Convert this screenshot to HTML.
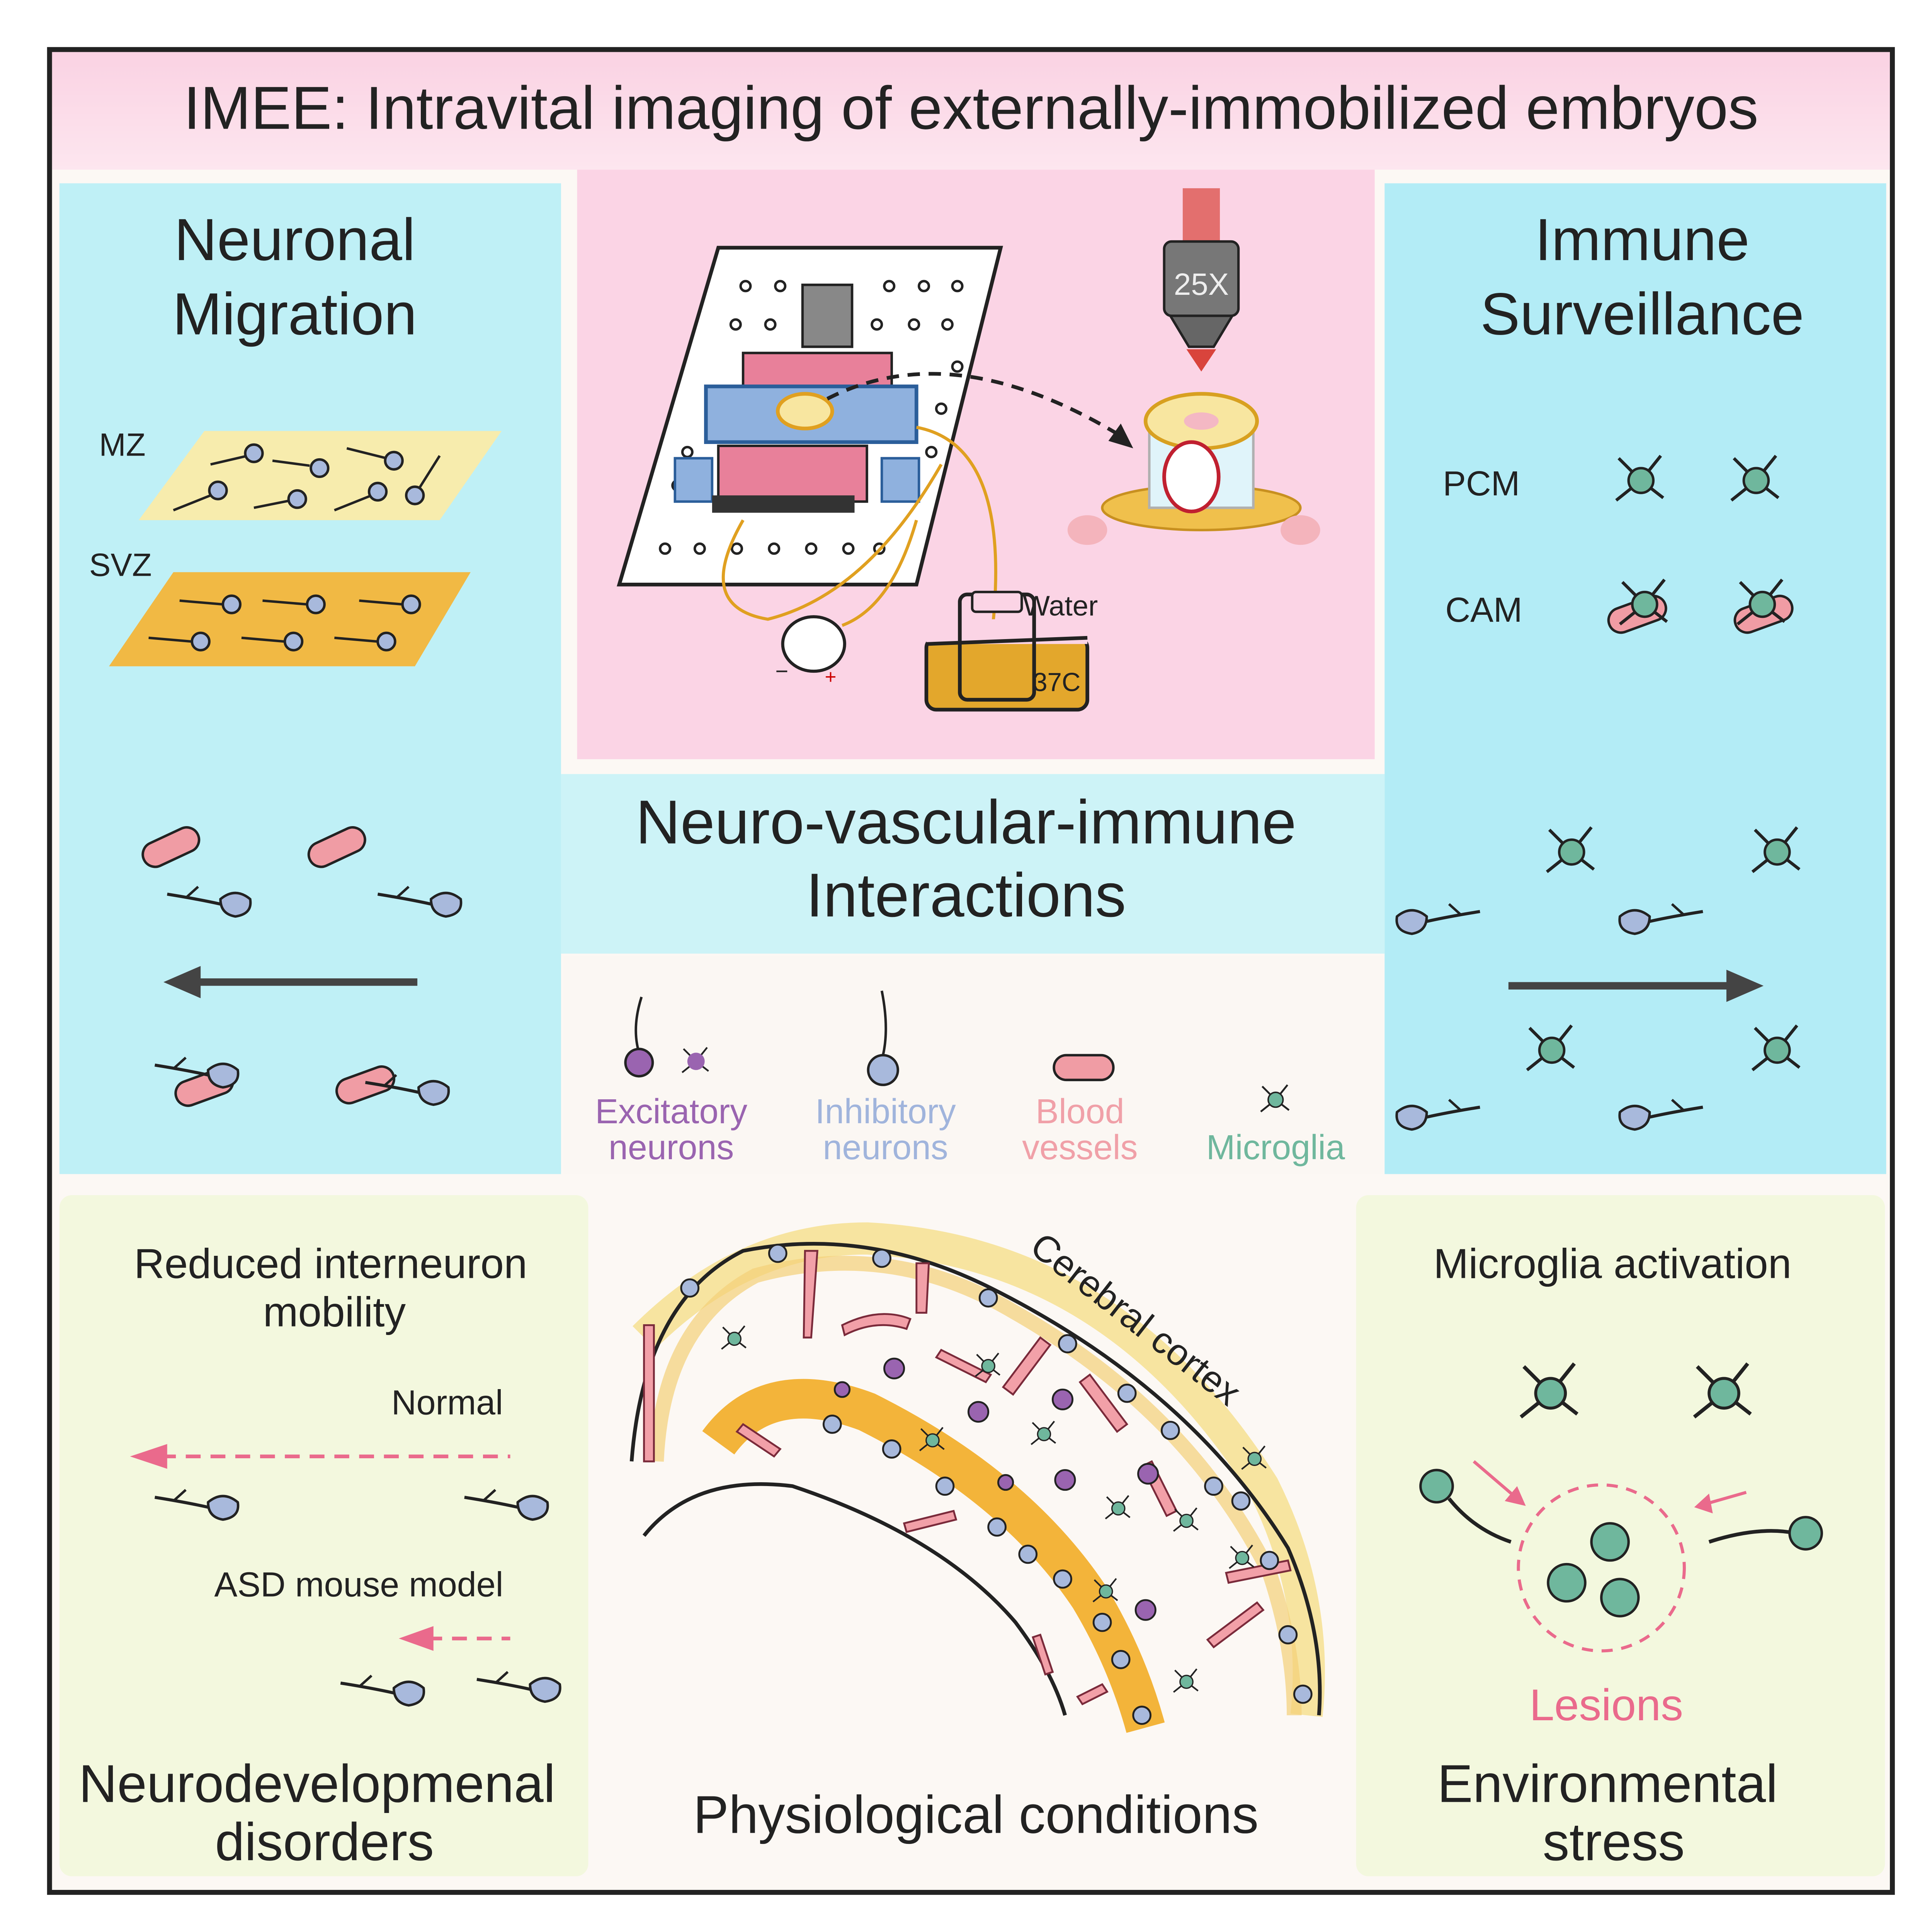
<!DOCTYPE html>
<html><head><meta charset="utf-8"><style>
html,body{margin:0;padding:0;background:#fff;overflow:hidden;width:100vw;height:100vh}
svg{display:block;width:100vw;height:100vh}
text{font-family:"Liberation Sans",sans-serif}
</style></head><body>
<svg viewBox="0 0 1560 1560" preserveAspectRatio="none" xmlns="http://www.w3.org/2000/svg">
<defs>
<symbol id="nb" viewBox="-60 -20 80 40" overflow="visible">
<path d="M-55,-6 Q-30,-2 -12,2" stroke="#222" stroke-width="2.5" fill="none"/>
<path d="M-40,-3 L-30,-12" stroke="#222" stroke-width="2" fill="none"/>
<path d="M-12,-2 Q0,-12 12,-2 Q14,10 0,12 Q-12,10 -12,-2Z" fill="#a8b9dc" stroke="#222" stroke-width="2"/>
</symbol>
<symbol id="mg" viewBox="-25 -25 50 50" overflow="visible">
<path d="M0,0 L-18,-18 M0,0 L16,-20 M0,0 L-20,16 M0,0 L18,14" stroke="#222" stroke-width="2.5"/>
<circle r="10" fill="#6fb79d" stroke="#222" stroke-width="2"/>
</symbol>
<symbol id="bv" viewBox="-25 -12 50 24" overflow="visible">
<rect x="-24" y="-10" width="48" height="20" rx="10" fill="#f09ca4" stroke="#222" stroke-width="2"/>
</symbol>
<linearGradient id="pk" x1="0" y1="0" x2="0" y2="1"><stop offset="0" stop-color="#fad2e3"/><stop offset="1" stop-color="#fde6ef"/></linearGradient>
</defs>
<rect width="1560" height="1560" fill="#fff"/>
<rect x="40" y="40" width="1488" height="1488" fill="#fcf8f4"/>
<rect x="42" y="42" width="1484" height="95" fill="url(#pk)"/>
<text x="784" y="104" font-size="49" text-anchor="middle" fill="#222">IMEE: Intravital imaging of externally-immobilized embryos</text>
<rect x="466" y="137" width="644" height="476" fill="#fbd4e5"/>
<rect x="48" y="148" width="405" height="800" fill="#bff0f6"/>
<rect x="1118" y="148" width="405" height="800" fill="#b3ecf6"/>
<rect x="453" y="625" width="665" height="145" fill="#cdf3f7"/>
<rect x="455" y="772" width="662" height="176" fill="#fbf7f3"/>
<rect x="48" y="965" width="427" height="550" fill="#f3f8de" rx="10"/>
<rect x="1095" y="965" width="427" height="550" fill="#f3f8de" rx="10"/>
<rect x="40" y="40" width="1488" height="1488" fill="none" stroke="#222" stroke-width="4"/>

<text x="238" y="210" font-size="48" text-anchor="middle" fill="#222">Neuronal</text>
<text x="238" y="270" font-size="48" text-anchor="middle" fill="#222">Migration</text>
<text x="80" y="368" font-size="26" fill="#222">MZ</text>
<text x="72" y="465" font-size="26" fill="#222">SVZ</text>
<polygon points="165,348 405,348 355,420 112,420" fill="#f7ecad"/>
<polygon points="140,462 380,462 335,538 88,538" fill="#f1b944"/>
<g stroke="#222" stroke-width="2" fill="#a8b9dc">
<path d="M170,375 L200,368" fill="none"/><circle cx="205" cy="366" r="7"/>
<path d="M220,372 L250,376" fill="none"/><circle cx="258" cy="378" r="7"/>
<path d="M280,362 L312,370" fill="none"/><circle cx="318" cy="372" r="7"/>
<path d="M140,412 L170,400" fill="none"/><circle cx="176" cy="396" r="7"/>
<path d="M205,410 L235,404" fill="none"/><circle cx="240" cy="403" r="7"/>
<path d="M270,412 L300,400" fill="none"/><circle cx="305" cy="397" r="7"/>
<path d="M355,368 L338,395" fill="none"/><circle cx="335" cy="400" r="7"/>
<path d="M145,485 L180,488" fill="none"/><circle cx="187" cy="488" r="7"/>
<path d="M212,485 L248,488" fill="none"/><circle cx="255" cy="488" r="7"/>
<path d="M290,485 L325,488" fill="none"/><circle cx="332" cy="488" r="7"/>
<path d="M120,515 L155,518" fill="none"/><circle cx="162" cy="518" r="7"/>
<path d="M195,515 L230,518" fill="none"/><circle cx="237" cy="518" r="7"/>
<path d="M270,515 L305,518" fill="none"/><circle cx="312" cy="518" r="7"/>
</g>
<g transform="translate(138,684) rotate(-25)"><use href="#bv" x="-25" y="-12" width="50" height="24"/></g>
<g transform="translate(272,684) rotate(-25)"><use href="#bv" x="-25" y="-12" width="50" height="24"/></g>
<use href="#nb" x="130" y="708" width="80" height="40"/>
<use href="#nb" x="300" y="708" width="80" height="40"/>
<line x1="150" y1="793" x2="337" y2="793" stroke="#444" stroke-width="6"/>
<polygon points="132,793 162,780 162,806" fill="#444"/>
<g transform="translate(165,878) rotate(-20)"><use href="#bv" x="-25" y="-12" width="50" height="24"/></g>
<g transform="translate(295,876) rotate(-20)"><use href="#bv" x="-25" y="-12" width="50" height="24"/></g>
<use href="#nb" x="120" y="846" width="80" height="40"/>
<use href="#nb" x="290" y="860" width="80" height="40"/>

<polygon points="580,200 808,200 740,472 500,472" fill="#fff" stroke="#222" stroke-width="3"/>
<g fill="#fff" stroke="#222" stroke-width="2">
<circle cx="602" cy="231" r="4"/><circle cx="630" cy="231" r="4"/><circle cx="718" cy="231" r="4"/><circle cx="746" cy="231" r="4"/><circle cx="773" cy="231" r="4"/>
<circle cx="594" cy="262" r="4"/><circle cx="622" cy="262" r="4"/><circle cx="708" cy="262" r="4"/><circle cx="738" cy="262" r="4"/><circle cx="765" cy="262" r="4"/>
<circle cx="555" cy="365" r="4"/><circle cx="547" cy="392" r="4"/>
<circle cx="537" cy="443" r="4"/><circle cx="565" cy="443" r="4"/><circle cx="595" cy="443" r="4"/><circle cx="625" cy="443" r="4"/><circle cx="655" cy="443" r="4"/><circle cx="685" cy="443" r="4"/><circle cx="710" cy="443" r="4"/>
<circle cx="773" cy="296" r="4"/><circle cx="760" cy="330" r="4"/><circle cx="752" cy="365" r="4"/>
</g>
<rect x="648" y="230" width="40" height="50" fill="#888" stroke="#222" stroke-width="2"/>
<rect x="600" y="285" width="120" height="40" fill="#e8809a" stroke="#222" stroke-width="2"/>
<rect x="570" y="312" width="170" height="45" fill="#8fb1de" stroke="#2b5e9a" stroke-width="3"/>
<rect x="580" y="360" width="120" height="45" fill="#e8809a" stroke="#222" stroke-width="2"/>
<rect x="545" y="370" width="30" height="35" fill="#8fb1de" stroke="#2b5e9a" stroke-width="2"/>
<rect x="712" y="370" width="30" height="35" fill="#8fb1de" stroke="#2b5e9a" stroke-width="2"/>
<rect x="575" y="400" width="115" height="14" fill="#333"/>
<ellipse cx="650" cy="332" rx="22" ry="14" fill="#f8e6a0" stroke="#e0a020" stroke-width="3"/>
<path d="M668,322 Q770,270 905,352" fill="none" stroke="#222" stroke-width="3" stroke-dasharray="10,7"/>
<polygon points="915,362 895,356 905,342" fill="#222"/>
<path d="M600,420 Q560,490 620,500 Q700,480 760,375" fill="none" stroke="#e0a020" stroke-width="2.5"/>
<path d="M740,345 Q820,360 800,520" fill="none" stroke="#e0a020" stroke-width="2.5"/>
<path d="M680,505 Q720,490 740,420" fill="none" stroke="#e0a020" stroke-width="2.5"/>
<ellipse cx="657" cy="520" rx="25" ry="22" fill="#fff" stroke="#222" stroke-width="2.5"/>
<text x="626" y="548" font-size="18" fill="#222">−</text><text x="666" y="552" font-size="16" fill="#c00">+</text>
<rect x="748" y="515" width="130" height="58" rx="8" fill="#e3a72c" stroke="#222" stroke-width="3"/>
<rect x="748" y="500" width="130" height="20" fill="#fbd4e5"/>
<path d="M748,520 L878,515" stroke="#222" stroke-width="3"/>
<rect x="775" y="480" width="60" height="85" rx="6" fill="none" stroke="#222" stroke-width="3"/>
<rect x="785" y="478" width="40" height="16" rx="3" fill="#fbd4e5" stroke="#222" stroke-width="2"/>
<text x="826" y="497" font-size="23" fill="#222">Water</text>
<text x="834" y="558" font-size="21" fill="#222">37C</text>
<rect x="955" y="152" width="30" height="45" fill="#d9443c" opacity="0.7"/>
<rect x="940" y="195" width="60" height="60" rx="6" fill="#777" stroke="#222" stroke-width="2"/>
<polygon points="945,255 995,255 980,280 960,280" fill="#666" stroke="#222" stroke-width="2"/>
<text x="970" y="238" font-size="25" fill="#eee" text-anchor="middle">25X</text>
<polygon points="958,282 982,282 970,300" fill="#d9443c"/>
<ellipse cx="970" cy="410" rx="80" ry="18" fill="#f0c04c" stroke="#c89020" stroke-width="2"/>
<rect x="928" y="340" width="84" height="70" fill="#e0f4fa" stroke="#b0b0b0" stroke-width="2"/>
<ellipse cx="970" cy="340" rx="45" ry="22" fill="#f8e6a0" stroke="#d8a020" stroke-width="3"/>
<ellipse cx="970" cy="340" rx="14" ry="7" fill="#f4b8c4"/>
<ellipse cx="962" cy="385" rx="22" ry="28" fill="#fff" stroke="#c02030" stroke-width="3"/>
<ellipse cx="878" cy="428" rx="16" ry="12" fill="#f4b4bc"/>
<ellipse cx="1050" cy="428" rx="16" ry="12" fill="#f4b4bc"/>

<text x="1326" y="210" font-size="48" text-anchor="middle" fill="#222">Immune</text>
<text x="1326" y="270" font-size="48" text-anchor="middle" fill="#222">Surveillance</text>
<text x="1165" y="400" font-size="28" fill="#222">PCM</text>
<text x="1167" y="502" font-size="28" fill="#222">CAM</text>
<use href="#mg" x="1300" y="363" width="50" height="50"/>
<use href="#mg" x="1393" y="363" width="50" height="50"/>
<g transform="translate(1322,496) rotate(-20)"><use href="#bv" x="-25" y="-12" width="50" height="24"/></g>
<g transform="translate(1424,496) rotate(-20)"><use href="#bv" x="-25" y="-12" width="50" height="24"/></g>
<use href="#mg" x="1303" y="463" width="50" height="50"/>
<use href="#mg" x="1398" y="463" width="50" height="50"/>
<use href="#mg" x="1244" y="663" width="50" height="50"/>
<use href="#mg" x="1410" y="663" width="50" height="50"/>
<use href="#nb" x="1230" y="722" width="80" height="40" transform="scale(-1,1) translate(-2430,0)"/>
<use href="#nb" x="1410" y="722" width="80" height="40" transform="scale(-1,1) translate(-2790,0)"/>
<line x1="1218" y1="796" x2="1400" y2="796" stroke="#444" stroke-width="6"/>
<polygon points="1424,796 1394,783 1394,809" fill="#444"/>
<use href="#mg" x="1228" y="823" width="50" height="50"/>
<use href="#mg" x="1410" y="823" width="50" height="50"/>
<use href="#nb" x="1230" y="880" width="80" height="40" transform="scale(-1,1) translate(-2430,0)"/>
<use href="#nb" x="1410" y="880" width="80" height="40" transform="scale(-1,1) translate(-2790,0)"/>

<text x="780" y="681" font-size="50" text-anchor="middle" fill="#222">Neuro-vascular-immune</text>
<text x="780" y="740" font-size="50" text-anchor="middle" fill="#222">Interactions</text>
<path d="M518,805 Q510,830 516,850" stroke="#222" stroke-width="2" fill="none"/>
<circle cx="516" cy="858" r="11" fill="#9a64b0" stroke="#222" stroke-width="2"/>
<use href="#mg" x="548" y="843" width="28" height="28"/>
<circle cx="562" cy="857" r="7" fill="#9a64b0"/>
<path d="M712,800 Q718,830 713,852" stroke="#222" stroke-width="2" fill="none"/>
<circle cx="713" cy="864" r="12" fill="#a8b9dc" stroke="#222" stroke-width="2"/>
<use href="#bv" x="845" y="850" width="60" height="24"/>
<use href="#mg" x="1015" y="873" width="30" height="30"/>
<text x="542" y="907" font-size="28" text-anchor="middle" fill="#9a64b0">Excitatory</text>
<text x="542" y="936" font-size="28" text-anchor="middle" fill="#9a64b0">neurons</text>
<text x="715" y="907" font-size="28" text-anchor="middle" fill="#a0b4dc">Inhibitory</text>
<text x="715" y="936" font-size="28" text-anchor="middle" fill="#a0b4dc">neurons</text>
<text x="872" y="907" font-size="28" text-anchor="middle" fill="#f0a0a8">Blood</text>
<text x="872" y="936" font-size="28" text-anchor="middle" fill="#f0a0a8">vessels</text>
<text x="1030" y="936" font-size="28" text-anchor="middle" fill="#6fb79d">Microglia</text>

<text x="267" y="1032" font-size="34" text-anchor="middle" fill="#222">Reduced interneuron</text>
<text x="270" y="1071" font-size="34" text-anchor="middle" fill="#222">mobility</text>
<text x="316" y="1142" font-size="28" fill="#222">Normal</text>
<line x1="130" y1="1176" x2="412" y2="1176" stroke="#ea6a8c" stroke-width="3" stroke-dasharray="12,8"/>
<polygon points="105,1176 135,1166 135,1186" fill="#ea6a8c"/>
<use href="#nb" x="120" y="1195" width="80" height="40"/>
<use href="#nb" x="370" y="1195" width="80" height="40"/>
<text x="173" y="1289" font-size="28" fill="#222">ASD mouse model</text>
<line x1="345" y1="1323" x2="412" y2="1323" stroke="#ea6a8c" stroke-width="3" stroke-dasharray="12,8"/>
<polygon points="322,1323 350,1313 350,1333" fill="#ea6a8c"/>
<use href="#nb" x="270" y="1345" width="80" height="40"/>
<use href="#nb" x="380" y="1342" width="80" height="40"/>
<text x="256" y="1455" font-size="43" text-anchor="middle" fill="#222">Neurodevelopmenal</text>
<text x="262" y="1502" font-size="43" text-anchor="middle" fill="#222">disorders</text>

<path d="M520,1080 Q600,1000 700,1000 Q900,1010 1020,1200 Q1065,1290 1055,1385" fill="none" stroke="#f7e4a0" stroke-width="26"/>
<path d="M510,1180 Q520,1050 600,1010 Q700,990 800,1040 Q960,1120 1040,1250 Q1070,1320 1065,1385" fill="none" stroke="#222" stroke-width="3"/>
<path d="M530,1180 Q535,1070 610,1030 Q720,1000 820,1060 Q960,1140 1025,1270 Q1045,1330 1045,1385" fill="none" stroke="#f3d078" stroke-width="12" opacity="0.7"/>
<path d="M580,1165 Q620,1110 700,1140 Q820,1200 880,1290 Q910,1340 925,1395" fill="none" stroke="#f3b43a" stroke-width="32"/>
<path d="M520,1240 Q560,1190 640,1200 Q760,1240 820,1310 Q850,1350 860,1385" fill="none" stroke="#222" stroke-width="3"/>
<g fill="#f2a0a8" stroke="#7a2a3a" stroke-width="1.5">
<path d="M650,1010 l10,0 l-5,70 l-6,0z"/><path d="M740,1020 l10,0 l-2,40 l-8,0z"/>
<path d="M680,1070 q30,-15 55,-5 l-3,8 q-25,-8 -50,5z"/><path d="M760,1090 l40,20 l-4,6 l-40,-20z"/>
<path d="M840,1080 l8,6 l-30,40 l-8,-6z"/><path d="M880,1110 l30,40 l-8,6 l-30,-40z"/>
<path d="M930,1180 l20,40 l-8,4 l-20,-40z"/><path d="M990,1270 l50,-10 l2,8 l-50,10z"/>
<path d="M1020,1300 l-40,30 l-5,-6 l40,-30z"/><path d="M600,1150 l30,20 l-5,6 l-30,-20z"/>
<path d="M520,1070 l8,0 l0,110 l-8,0z"/><path d="M870,1370 l20,-10 l4,6 l-20,10z"/>
<path d="M730,1230 l40,-10 l2,7 l-40,10z"/><path d="M840,1320 l10,30 l-6,2 l-10,-30z"/>
</g>
<g fill="#a8b9dc" stroke="#222" stroke-width="1.5">
<circle cx="557" cy="1040" r="7"/><circle cx="628" cy="1012" r="7"/><circle cx="712" cy="1016" r="7"/><circle cx="798" cy="1048" r="7"/><circle cx="862" cy="1085" r="7"/><circle cx="910" cy="1125" r="7"/><circle cx="945" cy="1155" r="7"/><circle cx="980" cy="1200" r="7"/><circle cx="1002" cy="1212" r="7"/><circle cx="1025" cy="1260" r="7"/><circle cx="1040" cy="1320" r="7"/><circle cx="1052" cy="1368" r="7"/>
<circle cx="672" cy="1150" r="7"/><circle cx="720" cy="1170" r="7"/><circle cx="763" cy="1200" r="7"/><circle cx="805" cy="1233" r="7"/><circle cx="830" cy="1255" r="7"/><circle cx="858" cy="1275" r="7"/><circle cx="890" cy="1310" r="7"/><circle cx="905" cy="1340" r="7"/><circle cx="922" cy="1385" r="7"/>
</g>
<g fill="#9a64b0" stroke="#222" stroke-width="1.5">
<circle cx="722" cy="1105" r="8"/><circle cx="790" cy="1140" r="8"/><circle cx="858" cy="1130" r="8"/><circle cx="860" cy="1195" r="8"/><circle cx="927" cy="1190" r="8"/><circle cx="680" cy="1122" r="6"/><circle cx="812" cy="1197" r="6"/><circle cx="925" cy="1300" r="8"/>
</g>
<use href="#mg" x="580" y="1068" width="26" height="26"/><use href="#mg" x="785" y="1090" width="26" height="26"/>
<use href="#mg" x="740" y="1150" width="26" height="26"/><use href="#mg" x="830" y="1145" width="26" height="26"/>
<use href="#mg" x="890" y="1205" width="26" height="26"/><use href="#mg" x="945" y="1215" width="26" height="26"/>
<use href="#mg" x="990" y="1245" width="26" height="26"/><use href="#mg" x="880" y="1272" width="26" height="26"/>
<use href="#mg" x="945" y="1345" width="26" height="26"/><use href="#mg" x="1000" y="1165" width="26" height="26"/>
<text x="830" y="1010" font-size="30" fill="#222" transform="rotate(38 830 1010)">Cerebral cortex</text>
<text x="788" y="1480" font-size="43" text-anchor="middle" fill="#222">Physiological conditions</text>

<text x="1302" y="1032" font-size="34" text-anchor="middle" fill="#222">Microglia activation</text>
<use href="#mg" x="1222" y="1095" width="60" height="60"/>
<use href="#mg" x="1362" y="1095" width="60" height="60"/>
<path d="M1170,1210 Q1190,1235 1220,1245" stroke="#222" stroke-width="3" fill="none"/>
<circle cx="1160" cy="1200" r="13" fill="#6fb79d" stroke="#222" stroke-width="2"/>
<path d="M1380,1245 Q1420,1232 1450,1238" stroke="#222" stroke-width="3" fill="none"/>
<circle cx="1458" cy="1238" r="13" fill="#6fb79d" stroke="#222" stroke-width="2"/>
<line x1="1190" y1="1180" x2="1225" y2="1210" stroke="#ea6a8c" stroke-width="2.5"/>
<polygon points="1232,1216 1215,1212 1225,1200" fill="#ea6a8c"/>
<line x1="1410" y1="1205" x2="1375" y2="1215" stroke="#ea6a8c" stroke-width="2.5"/>
<polygon points="1368,1217 1380,1206 1383,1222" fill="#ea6a8c"/>
<circle cx="1293" cy="1266" r="67" fill="none" stroke="#ea6a8c" stroke-width="2.5" stroke-dasharray="9,7"/>
<circle cx="1300" cy="1245" r="15" fill="#6fb79d" stroke="#222" stroke-width="2"/>
<circle cx="1265" cy="1278" r="15" fill="#6fb79d" stroke="#222" stroke-width="2"/>
<circle cx="1308" cy="1290" r="15" fill="#6fb79d" stroke="#222" stroke-width="2"/>
<text x="1297" y="1389" font-size="36" text-anchor="middle" fill="#ea6a8c">Lesions</text>
<text x="1298" y="1455" font-size="43" text-anchor="middle" fill="#222">Environmental</text>
<text x="1303" y="1502" font-size="43" text-anchor="middle" fill="#222">stress</text>
</svg>
</body></html>
